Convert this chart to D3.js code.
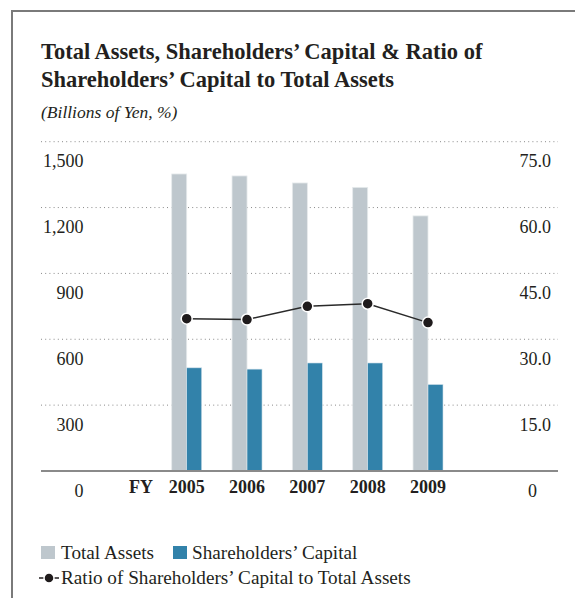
<!DOCTYPE html>
<html>
<head>
<meta charset="utf-8">
<script src="https://cdn.jsdelivr.net/npm/d3@7"></script>
<style>
  html, body { margin: 0; padding: 0; background: #fff; }
  svg { display: block; }
  text { font-family: "Liberation Serif", "Times New Roman", serif; fill: #231f20; }
</style>
</head>
<body>
<svg id="chart" width="575" height="598"></svg>
<script>
// ---- data ----
const years = ["2005", "2006", "2007", "2008", "2009"];
const totalAssets = [1353, 1344, 1312, 1292, 1162];
const shareholdersCapital = [470, 464, 492, 492, 394];
const ratio = [34.7, 34.5, 37.5, 38.1, 33.8];
const leftTicks = [0, 300, 600, 900, 1200, 1500];
const rightTicks = [0, 15, 30, 45, 60, 75];
const leftTickLabels = ["0", "300", "600", "900", "1,200", "1,500"];
const rightTickLabels = ["0", "15.0", "30.0", "45.0", "60.0", "75.0"];

const colAssets = "#bec7cd";
const colCapital = "#3282aa";

const svg = d3.select("#chart");

// frame (top + left)
svg.append("path")
  .attr("d", "M12,598 L12,11 L575,11")
  .attr("fill", "none").attr("stroke", "#7a7a7a").attr("stroke-width", 2);

// title
svg.append("text").attr("x", 41).attr("y", 59)
  .attr("font-size", 22.5).attr("font-weight", "bold")
  .text("Total Assets, Shareholders\u2019 Capital & Ratio of");
svg.append("text").attr("x", 41).attr("y", 87)
  .attr("font-size", 22.5).attr("font-weight", "bold")
  .text("Shareholders\u2019 Capital to Total Assets");
svg.append("text").attr("x", 41).attr("y", 118)
  .attr("font-size", 17.5).attr("font-style", "italic")
  .text("(Billions of Yen, %)");

// scales
const plotTop = 141.7, plotBottom = 471, plotLeft = 41, plotRight = 558;
const yL = d3.scaleLinear().domain([0, 1500]).range([plotBottom, plotTop]);
const yR = d3.scaleLinear().domain([0, 75]).range([plotBottom, plotTop]);
const x = d3.scalePoint().domain(years).range([186.7, 428]);
const barW = 15;

// gridlines
svg.append("g").selectAll("line")
  .data(leftTicks.filter(d => d > 0))
  .join("line")
  .attr("x1", plotLeft).attr("x2", plotRight)
  .attr("y1", d => yL(d)).attr("y2", d => yL(d))
  .attr("stroke", "#8a8a8a").attr("stroke-width", 1)
  .attr("stroke-dasharray", "1,3.2");

// bars
svg.append("g").selectAll("rect")
  .data(years)
  .join("rect")
  .attr("x", d => x(d) - barW)
  .attr("width", barW)
  .attr("y", (d, i) => yL(totalAssets[i]))
  .attr("height", (d, i) => yL(0) - yL(totalAssets[i]))
  .attr("fill", colAssets)
  .attr("stroke", "#e6eaec").attr("stroke-width", 0.8);

svg.append("g").selectAll("rect")
  .data(years)
  .join("rect")
  .attr("x", d => x(d))
  .attr("width", barW)
  .attr("y", (d, i) => yL(shareholdersCapital[i]))
  .attr("height", (d, i) => yL(0) - yL(shareholdersCapital[i]))
  .attr("fill", colCapital)
  .attr("stroke", "#cfe0ea").attr("stroke-width", 0.6);

// baseline
svg.append("line")
  .attr("x1", plotLeft).attr("x2", plotRight)
  .attr("y1", yL(0)).attr("y2", yL(0))
  .attr("stroke", "#8a8a8a").attr("stroke-width", 2);

// left axis labels (placed below their gridline)
svg.append("g").selectAll("text")
  .data(leftTicks)
  .join("text")
  .attr("x", 83.5)
  .attr("y", d => yL(d) + 25.5)
  .attr("text-anchor", "end")
  .attr("font-size", 18)
  .text((d, i) => leftTickLabels[i]);

// right axis labels
svg.append("g").selectAll("text")
  .data(rightTicks)
  .join("text")
  .attr("x", d => d === 0 ? 532.5 : 551)
  .attr("y", d => yR(d) + 25.5)
  .attr("text-anchor", d => d === 0 ? "middle" : "end")
  .attr("font-size", 18)
  .text((d, i) => rightTickLabels[i]);

// x labels
svg.append("text").attr("x", 141).attr("y", 493)
  .attr("text-anchor", "middle").attr("font-size", 18).attr("font-weight", "bold")
  .text("FY");
svg.append("g").selectAll("text")
  .data(years)
  .join("text")
  .attr("x", d => x(d))
  .attr("y", 493)
  .attr("text-anchor", "middle")
  .attr("font-size", 18).attr("font-weight", "bold")
  .text(d => d);

// ratio line
const line = d3.line().x((d, i) => x(years[i])).y(d => yR(d));
svg.append("path")
  .datum(ratio)
  .attr("d", line)
  .attr("fill", "none").attr("stroke", "#2a2a2a").attr("stroke-width", 1.5);
svg.append("g").selectAll("circle")
  .data(ratio)
  .join("circle")
  .attr("cx", (d, i) => x(years[i]))
  .attr("cy", d => yR(d))
  .attr("r", 5.5)
  .attr("fill", "#1f1b1c")
  .attr("stroke", "#fff").attr("stroke-width", 1.5);

// legend
const lg = svg.append("g");
lg.append("rect").attr("x", 41).attr("y", 546).attr("width", 14).attr("height", 13).attr("fill", colAssets);
lg.append("text").attr("x", 61).attr("y", 559).attr("font-size", 19.2).text("Total Assets");
lg.append("rect").attr("x", 173).attr("y", 546).attr("width", 14).attr("height", 13).attr("fill", colCapital);
lg.append("text").attr("x", 192).attr("y", 559).attr("font-size", 19.2).text("Shareholders\u2019 Capital");
lg.append("line").attr("x1", 39).attr("x2", 59).attr("y1", 578).attr("y2", 578)
  .attr("stroke", "#231f20").attr("stroke-width", 1.5);
lg.append("circle").attr("cx", 49).attr("cy", 578).attr("r", 5).attr("fill", "#1f1b1c")
  .attr("stroke", "#fff").attr("stroke-width", 1.5);
lg.append("text").attr("x", 61).attr("y", 584).attr("font-size", 19.2)
  .text("Ratio of Shareholders\u2019 Capital to Total Assets");
</script>
</body>
</html>
